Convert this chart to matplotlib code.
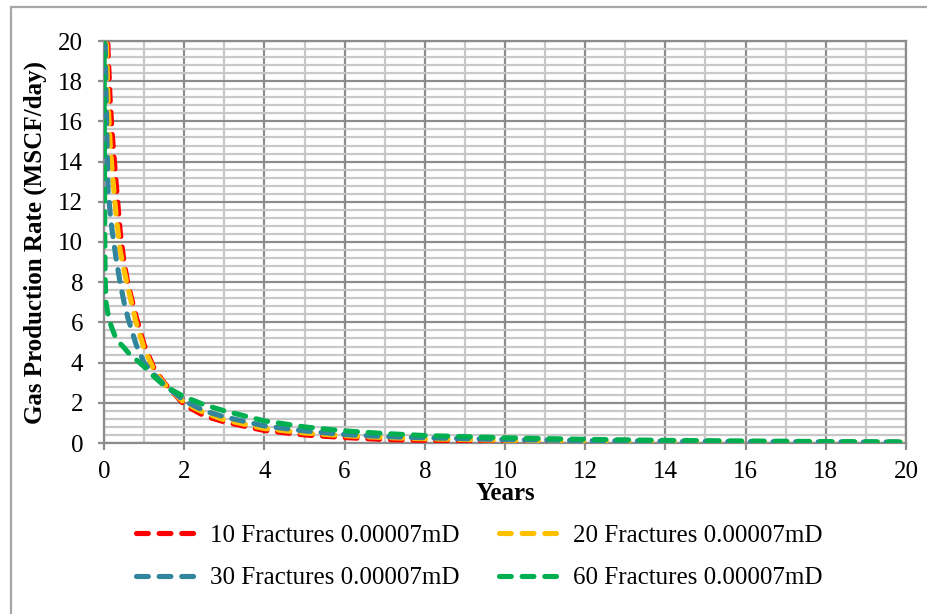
import matplotlib
matplotlib.use("Agg")
import matplotlib.pyplot as plt
from matplotlib.patches import Rectangle
from matplotlib.ticker import MultipleLocator

plt.rcParams['font.family'] = ['Liberation Serif', 'DejaVu Serif']

# Production time (years) and gas rate (MSCF/day) for each fracture count
years = [0.0, 0.01, 0.02, 0.03, 0.05, 0.1, 0.15, 0.2, 0.3, 0.4, 0.5, 0.6, 0.8,
         1.0, 1.25, 1.5, 2.0, 2.5, 3.0, 4.0, 5.0, 6.0, 7.0, 8.0, 10.0, 12.0,
         14.0, 16.0, 18.0, 20.0]
rate_10 = [40.0, 33.0, 29.0, 27.0, 24.0, 19.6, 17.2, 15.5, 13.0, 10.6, 9.0, 7.9,
           6.3, 4.9, 3.7, 3.0, 1.9, 1.35, 1.05, 0.62, 0.4, 0.27, 0.17, 0.13,
           0.08, 0.05, 0.035, 0.025, 0.02, 0.015]
rate_20 = [35.0, 29.0, 25.0, 23.0, 21.0, 17.0, 15.0, 13.6, 11.4, 9.6, 8.6, 7.7,
           6.0, 4.7, 3.6, 2.95, 2.0, 1.5, 1.15, 0.72, 0.5, 0.36, 0.27, 0.21,
           0.14, 0.1, 0.07, 0.05, 0.04, 0.03]
rate_30 = [30.0, 25.0, 22.0, 20.0, 17.5, 12.6, 11.5, 10.6, 9.2, 8.0, 7.0, 6.2,
           4.9, 4.0, 3.4, 2.9, 2.1, 1.6, 1.3, 0.85, 0.6, 0.42, 0.32, 0.26,
           0.17, 0.12, 0.09, 0.07, 0.055, 0.045]
rate_60 = [20.5, 14.0, 10.0, 8.0, 7.0, 6.4, 6.0, 5.7, 5.2, 4.95, 4.75, 4.5,
           4.15, 3.8, 3.3, 2.85, 2.3, 1.9, 1.6, 1.1, 0.8, 0.6, 0.47, 0.37,
           0.26, 0.18, 0.13, 0.1, 0.07, 0.05]

series_labels = ["10 Fractures 0.00007mD", "20 Fractures 0.00007mD",
                 "30 Fractures 0.00007mD", "60 Fractures 0.00007mD"]
series_rates = [rate_10, rate_20, rate_30, rate_60]
series_colors = ["#ff0000", "#ffc000", "#31859c", "#00b050"]

x_ticks = list(range(0, 21, 2))
y_ticks = list(range(0, 21, 2))

W, H = 927, 614
fig = plt.figure(figsize=(W / 100, H / 100), dpi=100)

# chart-area border (left and top edges visible)
fig.patches.append(Rectangle((11 / W, -0.2), 1.5, 1.2 - 7 / H,
                             transform=fig.transFigure, fill=False,
                             edgecolor="#a6a6a6", linewidth=1.6))

ax = fig.add_axes([104 / W, 1 - 443 / H, (906 - 104) / W, (443 - 41) / H])

lines = []
for rates, color, label in zip(series_rates, series_colors, series_labels):
    ln, = ax.plot(years, rates, color=color, linewidth=3.7, label=label,
                  dashes=(2.3, 2.1), dash_capstyle='round', zorder=3)
    lines.append(ln)

ax.set_xlim(0, 20)
ax.set_ylim(0, 20)
ax.set_xticks(x_ticks)
ax.set_yticks(y_ticks)
ax.xaxis.set_minor_locator(MultipleLocator(1))
ax.yaxis.set_minor_locator(MultipleLocator(0.4))

ax.grid(which='minor', color="#c8c8c8", linewidth=1.6, zorder=0)
ax.grid(which='major', color="#8c8c8c", linewidth=1.6, zorder=1)
ax.set_axisbelow(True)

for side in ax.spines.values():
    side.set_color("#8c8c8c")
    side.set_linewidth(1.6)

ax.tick_params(axis='both', which='minor', length=0)
ax.tick_params(axis='x', which='major', length=5, width=1.6,
               color="#8c8c8c", labelsize=18, pad=8)
ax.tick_params(axis='y', which='major', length=4, width=1.6,
               color="#8c8c8c", labelsize=18, pad=11)

ax.set_xlabel("Years", fontsize=18, fontweight='bold', labelpad=-1)
ax.set_ylabel("Gas Production Rate (MSCF/day)", fontsize=18,
              fontweight='bold', labelpad=8)

# row-wise legend order: 10 | 20 on top, 30 | 60 below
order = [0, 2, 1, 3]
fig.legend(handles=[lines[i] for i in order],
           labels=[series_labels[i] for i in order], ncol=2,
           loc='center', bbox_to_anchor=(479 / W, 1 - 557 / H),
           frameon=False, fontsize=18, handlelength=2.4,
           handletextpad=0.55, columnspacing=1.6, labelspacing=0.8)

fig.savefig("out.png", dpi=100)
